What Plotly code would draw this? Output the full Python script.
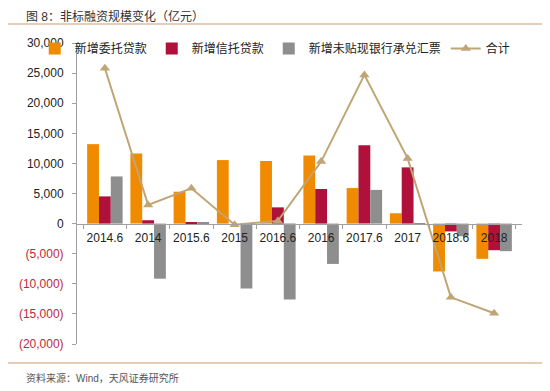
import plotly.graph_objects as go

categories = ["2014.6", "2014", "2015.6", "2015", "2016.6", "2016", "2017.6", "2017", "2018.6", "2018"]
entrusted = [13200, 11650, 5300, 10550, 10400, 11300, 5900, 1720, -7950, -5850]
trust = [4520, 560, 230, 0, 2700, 5750, 13030, 9340, -1300, -4420]
bankers = [7830, -9150, 200, -10800, -12600, -6700, 5600, -200, -2100, -4580]
total = [25800, 3100, 5860, -200, 450, 10300, 24700, 10830, -12250, -14900]

tick_vals = [30000, 25000, 20000, 15000, 10000, 5000, 0, -5000, -10000, -15000, -20000]
tick_text = ["30,000", "25,000", "20,000", "15,000", "10,000", "5,000", "0",
             "<span style='color:#C0283C'>(5,000)</span>",
             "<span style='color:#C0283C'>(10,000)</span>",
             "<span style='color:#C0283C'>(15,000)</span>",
             "<span style='color:#C0283C'>(20,000)</span>"]

FONT = "Liberation Sans, Noto Sans CJK SC, Arial, sans-serif"

fig = go.Figure()
fig.add_trace(go.Bar(x=categories, y=entrusted, name="新增委托贷款", marker_color="#F08A00", marker_line_width=0))
fig.add_trace(go.Bar(x=categories, y=trust, name="新增信托贷款", marker_color="#B0113A", marker_line_width=0))
fig.add_trace(go.Bar(x=categories, y=bankers, name="新增未贴现银行承兑汇票", marker_color="#8E8E8E", marker_line_width=0))
fig.add_trace(go.Scatter(x=categories, y=total, name="合计", mode="lines+markers",
                         line=dict(color="#BFA574", width=2),
                         marker=dict(symbol="triangle-up", size=9, color="#BFA574")))

fig.update_layout(
    width=542, height=383,
    margin=dict(l=69, r=28, t=35, b=47, autoexpand=False),
    paper_bgcolor="white", plot_bgcolor="white",
    barmode="group", bargap=0.18, bargroupgap=0,
    font=dict(family=FONT, size=12, color="#222"),
    showlegend=True,
    legend=dict(orientation="h", x=-0.095, y=1.03, xanchor="left", yanchor="top",
                font=dict(size=12, color="#222"), bgcolor="rgba(0,0,0,0)",
                itemwidth=30, tracegroupgap=0),
    xaxis=dict(type="category", anchor="free", position=0.4, showline=True,
               linecolor="#A0A0A0", linewidth=1, ticks="outside", tickson="boundaries",
               ticklen=4, tickcolor="#A0A0A0", showgrid=False, tickangle=0,
               ticklabelstandoff=3,
               tickfont=dict(size=12, color="#222")),
    yaxis=dict(range=[-20000, 30000], tickvals=tick_vals, ticktext=tick_text,
               showline=True, linecolor="#A0A0A0", linewidth=1, ticks="outside",
               ticklen=4, tickcolor="#A0A0A0", showgrid=False, zeroline=False,
               ticklabelstandoff=6,
               tickfont=dict(size=12, color="#222")),
)

fig.add_annotation(text="图 8：非标融资规模变化（亿元）", xref="paper", yref="paper",
                   x=-0.12, y=1.088, xanchor="left", yanchor="middle", showarrow=False,
                   font=dict(size=12, color="#333"))
fig.add_shape(type="line", xref="paper", yref="paper", x0=-0.155, x1=1.063, y0=1.063, y1=1.063,
              line=dict(color="#E6CDB5", width=2))
fig.add_shape(type="line", xref="paper", yref="paper", x0=-0.155, x1=1.063, y0=-0.063, y1=-0.063,
              line=dict(color="#E6CDB5", width=2))
fig.add_annotation(text="资料来源：Wind，天风证券研究所", xref="paper", yref="paper",
                   x=-0.12, y=-0.113, xanchor="left", yanchor="middle", showarrow=False,
                   font=dict(size=10, color="#555"))

fig.write_html("out.html")
